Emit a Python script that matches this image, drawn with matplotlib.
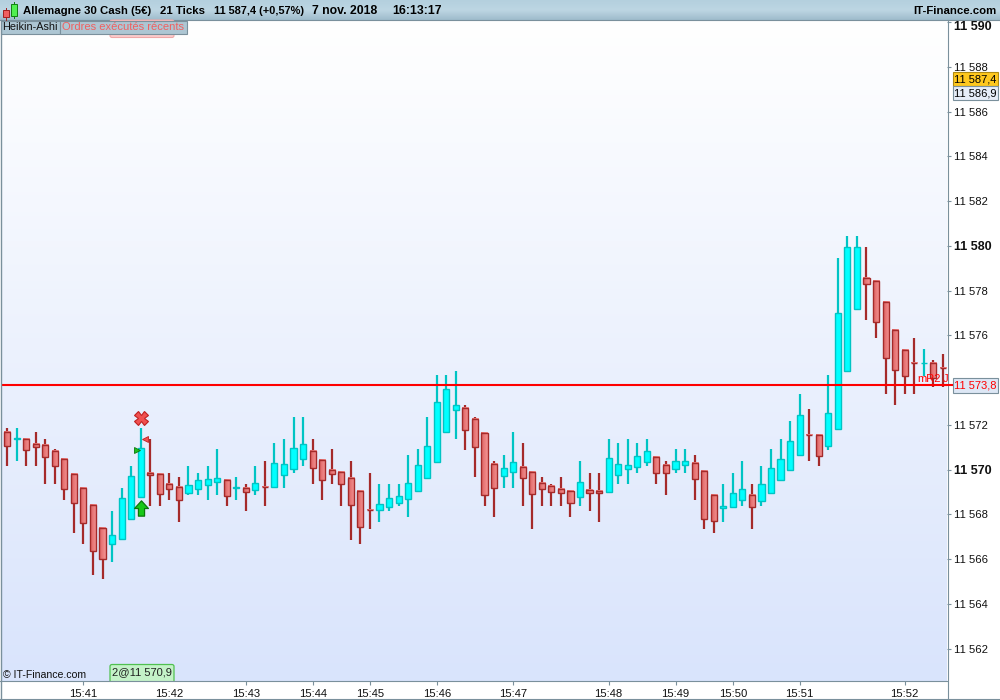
#!/usr/bin/env python3
"""Heikin-Ashi tick chart, Allemagne 30 Cash, 7 nov. 2018."""

import matplotlib
matplotlib.use("Agg")
import matplotlib.pyplot as plt
import numpy as np
from matplotlib.patches import FancyBboxPatch, Rectangle
from matplotlib.path import Path

plt.rcParams["font.family"] = ["Liberation Sans", "DejaVu Sans"]

BASE = 11570

# prices as offsets from BASE
opens = [
    1.69, 1.39, 1.37, 1.15, 1.10, 0.84, 0.48, -0.19, -0.82, -1.58,
    -2.61, -3.34, -3.12, -2.22, -1.24, -0.15, -0.19, -0.64, -0.78, -1.06,
    -0.88, -0.70, -0.57, -0.46, -0.80, -0.82, -0.93, -0.76, -0.79, -0.25,
    0.01, 0.46, 0.84, 0.43, -0.01, -0.10, -0.37, -0.96, -1.79, -1.82,
    -1.69, -1.51, -1.33, -0.97, -0.39, 0.33, 1.67, 2.67, 2.76, 2.27,
    1.64, 0.25, -0.30, -0.12, 0.12, -0.10, -0.60, -0.73, -0.88, -0.96,
    -1.24, -0.91, -0.96, -1.01, -0.25, 0.03, 0.10, 0.34, 0.57, 0.21,
    0.01, 0.21, 0.30, -0.06, -1.13, -1.73, -1.69, -1.36, -1.13, -1.42,
    -1.06, -0.48, -0.03, 0.66, 1.54, 1.55, 1.04, 1.82, 4.42, 7.19,
    8.58, 8.45, 7.51, 6.25, 5.36, 4.76, 4.75, 4.78, 4.54,
]
closes = [
    1.04, 1.40, 0.87, 1.00, 0.55, 0.15, -0.88, -1.51, -2.40, -3.66,
    -4.01, -2.93, -1.27, -0.28, 0.97, -0.25, -1.10, -0.88, -1.37, -0.69,
    -0.46, -0.42, -0.37, -1.19, -0.79, -1.01, -0.60, -0.77, 0.30, 0.25,
    0.97, 1.15, 0.06, -0.48, -0.21, -0.66, -1.60, -2.58, -1.80, -1.54,
    -1.27, -1.18, -0.60, 0.21, 1.06, 3.03, 3.61, 2.90, 1.76, 1.00,
    -1.15, -0.84, 0.07, 0.34, -0.39, -1.10, -0.88, -1.01, -1.06, -1.51,
    -0.55, -1.06, -1.06, 0.52, 0.25, 0.21, 0.61, 0.84, -0.16, -0.16,
    0.39, 0.39, -0.43, -2.22, -2.31, -1.63, -1.04, -0.87, -1.69, -0.64,
    0.07, 0.48, 1.28, 2.45, 1.53, 0.60, 2.54, 7.01, 9.97, 9.93,
    8.31, 6.61, 5.00, 4.46, 4.19, 4.75, 4.76, 4.10, 4.53,
]
highs = [
    1.88, 1.88, 1.37, 1.70, 1.39, 0.90, 0.48, -0.19, -0.82, -1.58,
    -2.61, -1.84, -0.81, 0.18, 1.88, 1.39, -0.19, -0.13, -0.31, 0.18,
    -0.13, 0.18, 0.90, -0.46, -0.31, -0.63, 0.18, 0.40, 1.21, 1.39,
    2.37, 2.37, 1.39, 0.43, 0.90, -0.10, 0.40, -0.96, -0.13, -0.63,
    -0.63, -0.63, 0.67, 0.90, 2.37, 4.21, 4.21, 4.39, 2.90, 2.37,
    1.64, 0.40, 0.67, 1.70, 1.21, -0.10, -0.31, -0.63, -0.31, -0.96,
    0.40, -0.13, -0.13, 1.39, 1.21, 1.39, 1.21, 1.39, 0.57, 0.40,
    0.90, 0.90, 0.67, -0.06, -1.13, -0.63, -0.13, 0.40, -0.63, 0.18,
    0.90, 1.39, 2.19, 3.40, 2.69, 1.55, 4.21, 9.45, 10.43, 10.43,
    9.94, 8.45, 7.51, 6.25, 5.40, 5.90, 5.40, 4.90, 5.18,
]
lows = [
    0.15, 0.37, 0.15, 0.15, -0.66, -0.66, -1.37, -2.85, -3.34, -4.69,
    -4.87, -4.15, -3.12, -2.22, -1.24, -1.64, -1.64, -1.37, -2.36, -1.15,
    -1.15, -1.37, -1.15, -1.64, -1.37, -1.87, -1.15, -1.64, -0.79, -0.84,
    -0.16, 0.15, -0.66, -1.37, -0.66, -1.64, -3.16, -3.34, -2.67, -2.36,
    -1.87, -1.64, -2.13, -0.97, -0.39, 0.33, 1.67, 1.36, 0.87, -0.34,
    -1.64, -2.13, -0.84, -0.84, -1.64, -2.67, -1.64, -1.64, -1.64, -2.13,
    -1.64, -1.87, -2.36, -1.01, -0.66, -0.66, -0.16, 0.15, -0.66, -1.15,
    -0.16, -0.16, -1.37, -2.67, -2.85, -2.36, -1.69, -1.64, -2.67, -1.64,
    -1.06, -0.48, -0.03, 0.66, 0.37, 0.15, 0.87, 1.82, 4.42, 7.19,
    6.69, 5.88, 3.37, 2.88, 3.37, 3.37, 4.18, 3.69, 3.69,
]

y_ticks = [20, 18, 16, 14, 12, 10, 8, 6, 2, 0, -2, -4, -6, -8]
y_labels = ["", "11 588", "11 586", "11 584", "11 582", "11 580", "11 578",
            "11 576", "11 572", "11 570", "11 568", "11 566", "11 564", "11 562"]
top_label = "11 590"
bold_labels = ["11 580", "11 570"]

time_idx = [8, 17, 25, 32, 38, 45, 53, 63, 70, 76, 83, 94]
time_labels = ["15:41", "15:42", "15:43", "15:44", "15:45", "15:46",
               "15:47", "15:48", "15:49", "15:50", "15:51", "15:52"]

order_level = 3.8
order_label = "11 573,8"
last_label = "11 587,4"
prev_label = "11 586,9"

RED_EDGE = "#a52a2a"
CYAN_EDGE = "#00c4c4"
CYAN_FILL = "#00ffff"
LINE_RED = "#ff0000"
CHROME = "#7a909c"
BODY_W = 0.64
XLIM = (-0.63, 98.43)
YLIM = (-9.45, 20.1)
LinearCmap = matplotlib.colors.LinearSegmentedColormap


def draw_candles(ax):
    red_grad = np.linspace(0, 1, 8).reshape(1, -1)
    cmap = LinearCmap.from_list("body", ["#de6464", "#f49292"])
    for i, (o, h, l, c) in enumerate(zip(opens, highs, lows, closes)):
        up = c > o
        edge = CYAN_EDGE if up else RED_EDGE
        ax.plot([i, i], [h, l], color=edge, lw=1.6, solid_capstyle="butt", zorder=2)
        bot, top = min(o, c), max(o, c)
        if up:
            ax.add_patch(Rectangle((i - BODY_W / 2, bot), BODY_W, top - bot, fc=CYAN_FILL,
                                   ec=edge, lw=1.0, zorder=3))
        else:
            ax.imshow(red_grad, extent=(i - BODY_W / 2, i + BODY_W / 2, bot, top), cmap=cmap,
                      aspect="auto", origin="lower", zorder=3)
            ax.add_patch(Rectangle((i - BODY_W / 2, bot), BODY_W, top - bot, fc="none",
                                   ec=edge, lw=1.0, zorder=3.1))


def draw_orders(ax):
    # entry / exit markers around the 15:42 candle
    ax.plot([14], [2.32], marker="X", ms=10, mfc="#f05050", mec="#c02020", mew=0.8, ls="none", zorder=6)
    arrow = Path([(-0.5, 0), (0, 0.55), (0.5, 0), (0.22, 0), (0.22, -0.55), (-0.22, -0.55), (-0.22, 0), (-0.5, 0)],
                 closed=True)
    ax.plot([14], [-1.73], marker=arrow, ms=11, mfc="#18c818", mec="#0a780a", mew=0.9, ls="none", zorder=6)
    ax.plot([13.61], [0.89], marker=">", ms=4.2, mfc="#20c020", mec="#0a780a", mew=0.6, ls="none", zorder=6)
    ax.plot([14.5], [1.36], marker="<", ms=4.2, mfc="#f05050", mec="#c02020", mew=0.6, ls="none", zorder=6)
    ax.axhline(order_level, color=LINE_RED, lw=1.5, zorder=5)


def draw_chrome(ov):
    # header bar
    grad = np.linspace(0, 1, 40).reshape(-1, 1)
    cmap = LinearCmap.from_list("bar", ["#b4d0de", "#bdd6e3", "#9fbccc"])
    ov.imshow(grad, extent=(0, 1000, 20, 0), cmap=cmap, aspect="auto", zorder=1)
    ov.plot([0, 1000], [20, 20], color=CHROME, lw=0.8, zorder=2)
    ov.add_patch(Rectangle((3, 10), 6, 7, fc="#f06060", ec="#a02020", lw=0.7, zorder=3))
    ov.plot([6, 6], [8, 20], color="#a02020", lw=0.7, zorder=2.5)
    ov.add_patch(Rectangle((11, 4), 6, 12, fc="#50f050", ec="#108010", lw=0.7, zorder=3))
    ov.plot([14, 14], [2, 18], color="#108010", lw=0.7, zorder=2.5)
    ov.text(23, 11.5, "Allemagne 30 Cash (5€)", fontsize=8.2, fontweight="bold", va="center", zorder=4)
    ov.text(160, 11.5, "21 Ticks", fontsize=8.2, fontweight="bold", va="center", zorder=4)
    ov.text(214, 11.5, "11 587,4 (+0,57%)", fontsize=7.9, fontweight="bold", va="center", zorder=4)
    ov.text(312, 11.5, "7 nov. 2018", fontsize=8.8, fontweight="bold", va="center", zorder=4)
    ov.text(392, 11.5, "16:13:17", fontsize=8.8, fontweight="bold", va="center", zorder=4)
    ov.text(996, 11.5, "IT-Finance.com", fontsize=8.2, fontweight="bold", ha="right", va="center", zorder=4)

    # tabs under the header, pink flag peeking out below them
    ov.add_patch(FancyBboxPatch((110, 20), 64, 17.5, boxstyle="round,pad=0,rounding_size=2",
                                fc="#fbcccc", ec="#f0a8a8", lw=0.8, zorder=2))
    ov.add_patch(Rectangle((0.5, 20.5), 59, 13.5, fc="#adc6d3", ec=CHROME, lw=0.8, zorder=3))
    ov.add_patch(Rectangle((59.5, 20.5), 127, 13.5, fc="#adc6d3", ec=CHROME, lw=0.8, zorder=3))
    ov.text(2, 27.5, "Heikin-Ashi", fontsize=7.8, va="center", color="#101010", zorder=4)
    ov.text(62, 27.5, "Ordres exécutés récents", fontsize=8.0, va="center", color="#f06060", zorder=4)

    # top scale label sits under its tick so the header does not cut it
    ov.text(954, 27, top_label, fontsize=9.0, fontweight="bold", va="center", color="#101010", zorder=4)

    # price flags on the right scale
    ov.add_patch(Rectangle((952.5, 71.5), 45, 14, fc="#ffc81e", ec="#b08a10", lw=0.8, zorder=4))
    ov.text(954, 79, last_label, fontsize=8.0, va="center", zorder=5)
    ov.add_patch(Rectangle((952.5, 86), 45, 14, fc="#e6edf8", ec=CHROME, lw=0.8, zorder=4))
    ov.text(954, 93.5, prev_label, fontsize=8.0, va="center", zorder=5)
    ov.add_patch(Rectangle((952.5, 378), 45, 14.5, fc="#dde7f5", ec=CHROME, lw=0.8, zorder=4))
    ov.text(954, 385.5, order_label, fontsize=8.0, va="center", color=LINE_RED, zorder=5)
    ov.plot([947, 952.5], [385, 385], color=LINE_RED, lw=1.5, zorder=3.5)

    # order tag drawn over the last candles
    ov.text(917, 379, "mR2", color=LINE_RED, fontsize=8.0, va="center", zorder=6)
    ov.text(943, 379, "J", color=LINE_RED, fontsize=8.0, va="center", zorder=6)

    # bottom tags
    ov.add_patch(FancyBboxPatch((110, 664.5), 64, 20, boxstyle="round,pad=0,rounding_size=2",
                                fc="#c4f2c8", ec="#50c050", lw=0.9, zorder=2))
    ov.add_patch(Rectangle((100, 681), 90, 6, fc="white", ec="none", zorder=2.5))
    ov.plot([0, 947], [681, 681], color=CHROME, lw=0.8, zorder=3)
    ov.text(112, 672.5, "2@11 570,9", fontsize=8.0, va="center", color="#202020", zorder=4)
    ov.text(3, 674.5, "© IT-Finance.com", fontsize=7.6, va="center", color="#101010", zorder=4)

    # window border
    ov.plot([0.5, 0.5], [20, 700], color=CHROME, lw=1.0, zorder=6)
    ov.plot([947.5, 947.5], [20, 700], color=CHROME, lw=0.8, zorder=3)
    ov.plot([0, 1000], [699, 699], color=CHROME, lw=0.8, zorder=6)


def main():
    fig = plt.figure(figsize=(10, 7), dpi=100, facecolor="white")
    ax = fig.add_axes([1 / 1000, (700 - 681) / 700, 946 / 1000, 661 / 700])
    ax.set_autoscale_on(False)

    ramp = np.linspace(0, 1, 256).reshape(-1, 1)
    bg = LinearCmap.from_list("bg", ["#ffffff", "#d9e4fc"])
    ax.imshow(ramp, extent=(XLIM[0], XLIM[1], YLIM[0], YLIM[1]), cmap=bg, aspect="auto", origin="upper", zorder=0)

    draw_candles(ax)
    draw_orders(ax)
    ax.set_xlim(*XLIM)
    ax.set_ylim(*YLIM)

    for s in ax.spines.values():
        s.set_visible(False)
    ax.yaxis.tick_right()
    ax.set_yticks(y_ticks)
    ax.set_yticklabels(y_labels, fontsize=8.1, color="#101010")
    for lab in ax.get_yticklabels():
        if lab.get_text() in bold_labels:
            lab.set_fontweight("bold")
            lab.set_fontsize(9.0)
    ax.tick_params(axis="y", length=3, width=0.8, color=CHROME, pad=1.8)
    ax.set_xticks(time_idx)
    ax.set_xticklabels(time_labels, fontsize=8.1, color="#101010")
    ax.tick_params(axis="x", length=3, width=0.8, color=CHROME, pad=2.5)

    ov = fig.add_axes([0, 0, 1, 1], zorder=5)
    ov.set_xlim(0, 1000)
    ov.set_ylim(700, 0)
    ov.patch.set_alpha(0)
    ov.axis("off")
    ov.set_autoscale_on(False)
    draw_chrome(ov)

    fig.savefig("out.png", dpi=100)
    plt.close(fig)


if __name__ == "__main__":
    main()
